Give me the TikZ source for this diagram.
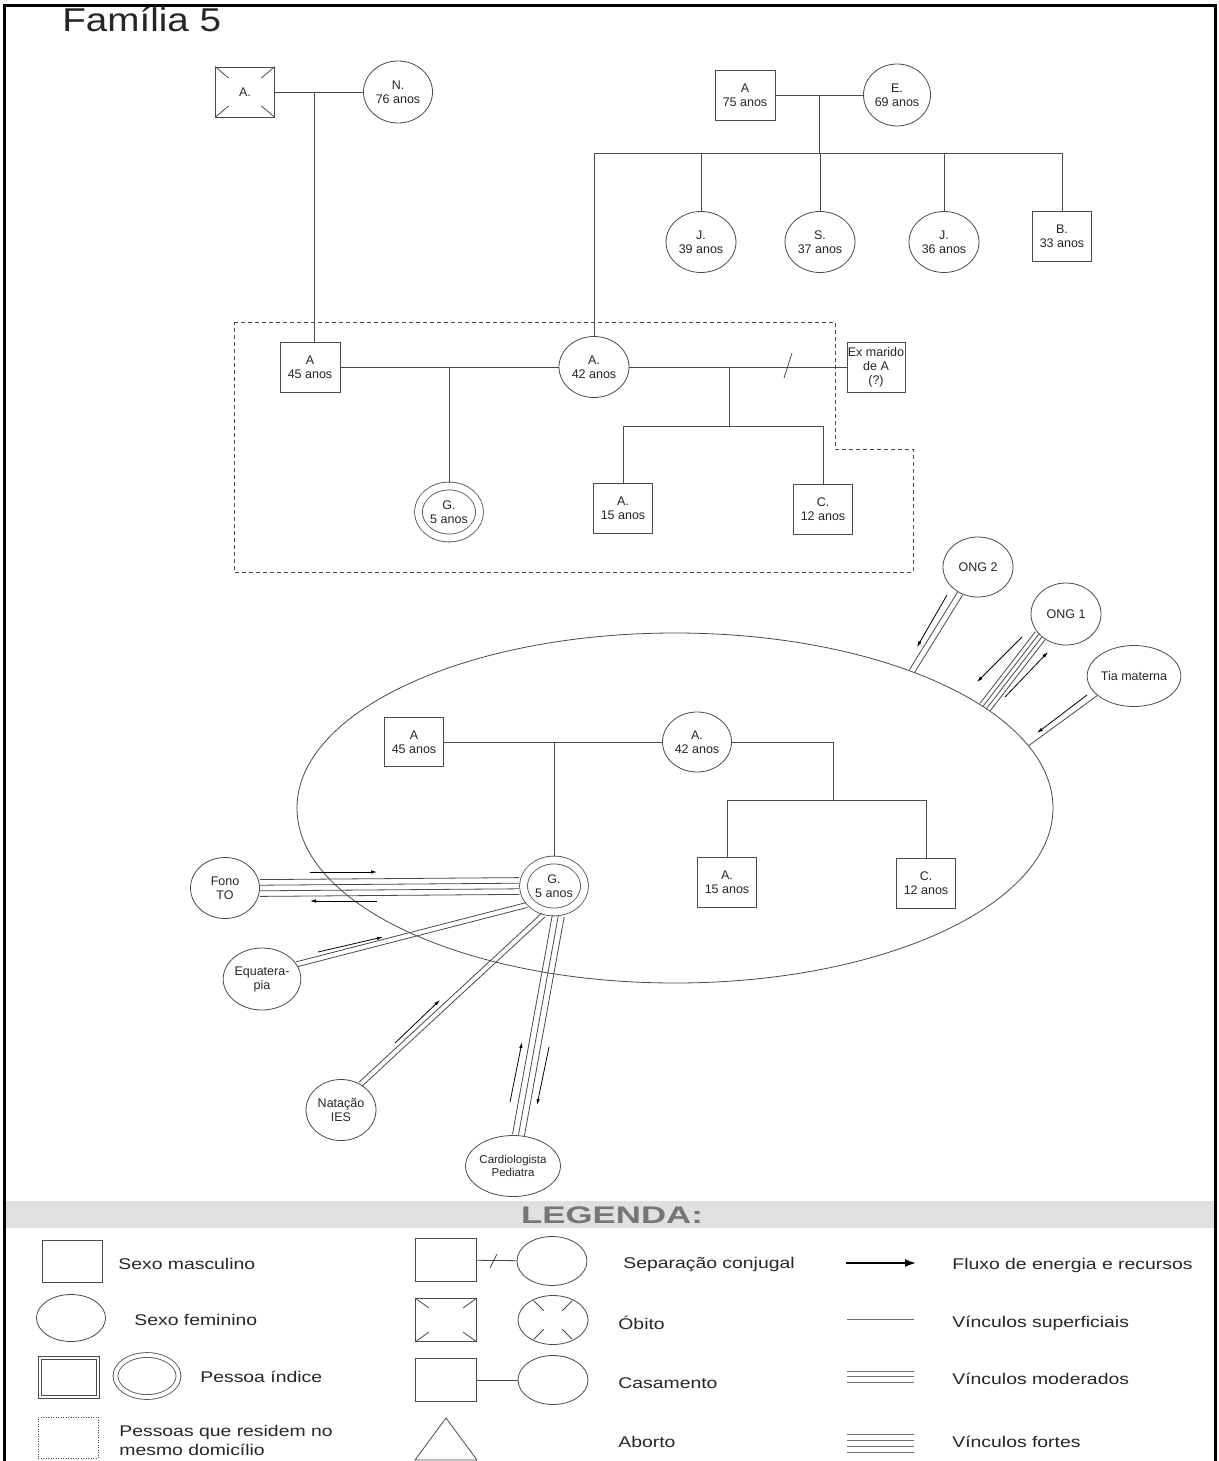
\documentclass[tikz,border=0pt]{standalone}
\usepackage{graphicx}
\usepackage{fontspec}
\setmainfont{Liberation Sans}
\usetikzlibrary{shapes.geometric, calc, arrows.meta}
\definecolor{lc}{HTML}{4A4A4A}
\definecolor{legline}{HTML}{707070}
\definecolor{bandgray}{HTML}{E0E0E0}
\definecolor{legtitle}{HTML}{767676}
\newcommand{\lx}[1]{\scalebox{1.25}[1]{#1}}
\newcommand{\relLines}[3]{%
  \foreach \o in {#1} {\draw[link] ($(#2)!\o pt!90:(#3)$) -- ($(#3)!\o pt!-90:(#2)$);}}
\tikzset{
  nfont/.style={font=\fontsize{12.5}{14}\selectfont, text=black!85},
  male/.style={draw=lc, rectangle, inner sep=0pt, align=center, nfont, minimum width=59, minimum height=50},
  fem/.style={draw=lc, ellipse, inner sep=0pt, align=center, nfont, minimum width=70, minimum height=61},
  idx/.style={draw=lc, ellipse, inner sep=0pt, align=center, nfont, minimum width=61, minimum height=52, double=white, double distance=7pt, outer sep=4.3pt},
  link/.style={draw=lc, line width=0.8pt},
  flow/.style={draw=black, line width=0.8pt, -{Latex[length=6pt, width=3.5pt]}},
  house/.style={draw=lc, dash pattern=on 4pt off 3pt, line width=0.8pt},
  ltext/.style={font=\fontsize{15.5}{19}\selectfont, anchor=west, inner sep=0pt, text=black!85},
  lsqs/.style={draw=lc, rectangle, minimum width=61, minimum height=43, inner sep=0pt},
  lels/.style={draw=lc, ellipse, minimum width=70, minimum height=49, inner sep=0pt},
  legl/.style={draw=legline, line width=1pt},
}
\begin{document}
\begin{tikzpicture}[x=1pt, y=-1pt, line width=0.8pt]
\useasboundingbox (0,0) rectangle (1218,1461);
\fill[white] (0,0) rectangle (1218,1461);
% frame
\draw[line width=3pt] (4,1461) -- (4,6) -- (1215,6) -- (1215,1461);
\node[anchor=base west, inner sep=0pt, font=\fontsize{33}{38}\selectfont, text=black!85] (title) at (62,32) {\scalebox{1.17}[1]{Família 5}};

% household (dashed)
\draw[house] (234,322) -- (835,322) -- (835,449) -- (913,449) -- (913,572) -- (234,572) -- cycle;

% paternal grandparents
\node[male, minimum width=59, minimum height=50] (pA) at (245,92) {A.};
\foreach \c in {north west,north east,south west,south east}
  \draw[link] (pA.\c) -- ($(pA.\c)!0.45!(pA.center)$);
\node[fem, minimum width=69, minimum height=62] (pN) at (398,92) {N.\\76 anos};
\draw[link] (pA) -- (pN);
\coordinate (c1) at (314,92);

% maternal grandparents
\node[male, minimum width=60] (mA) at (745,95) {A\\75 anos};
\node[fem, minimum width=67, minimum height=62] (mE) at (897,95) {E.\\69 anos};
\draw[link] (mA) -- (mE);
\coordinate (c2) at (819,95);
\coordinate (bar2) at (819,153);
\draw[link] (c2) -- (bar2);

\node[fem] (cJ1) at (701,242) {J.\\39 anos};
\node[fem] (cS) at (820,242) {S.\\37 anos};
\node[fem] (cJ2) at (944,242) {J.\\36 anos};
\node[male] (cB) at (1062,236) {B.\\33 anos};

% household members
\node[male, minimum width=60] (hA) at (310,367) {A\\45 anos};
\node[fem] (hA42) at (594,367) {A.\\42 anos};
\draw[link] (c1) -- (c1 |- hA.north);
\draw[link] (hA42.north |- bar2) -- (cB.north |- bar2);
\draw[link] (hA42.north |- bar2) -- (hA42.north);
\foreach \n in {cJ1,cS,cJ2,cB} \draw[link] (\n.north |- bar2) -- (\n.north);

\draw[link] (hA) -- (hA42);
\coordinate (c3) at (449,367);
\node[idx] (hG) at (449,512) {G.\\5 anos};
\draw[link] (c3) -- (hG.north);
\node[male, minimum width=58] (hEx) at (876,367) {Ex marido\\de A\\(?)};
\draw[link] (hA42) -- (hEx);
\draw[link] (784,378) -- (792,353);
\coordinate (c4) at (729,367);
\coordinate (bar4) at (729,426);
\draw[link] (c4) -- (bar4);
\node[male] (hA15) at (623,508) {A.\\15 anos};
\node[male] (hC12) at (823,509) {C.\\12 anos};
\draw[link] (hA15.north) -- (hA15.north |- bar4) -- (hC12.north |- bar4) -- (hC12.north);

% ecomap
\node[draw=lc, ellipse, minimum width=756, minimum height=350, inner sep=0pt] (eco) at (675,808) {};
\node[male, minimum height=49] (eA45) at (414,742) {A\\45 anos};
\node[fem, minimum width=69, minimum height=60] (eA42) at (697,742) {A.\\42 anos};
\draw[link] (eA45) -- (eA42);
\node[idx] (eG) at (554,886) {G.\\5 anos};
\coordinate (c5) at (554,742);
\draw[link] (c5) -- (eG.north);
\coordinate (c6) at (833,742);
\coordinate (bar6) at (833,800);
\draw[link] (eA42.east) -- (c6) -- (bar6);
\node[male] (eA15) at (727,882) {A.\\15 anos};
\node[male] (eC12) at (926,883) {C.\\12 anos};
\draw[link] (eA15.north) -- (eA15.north |- bar6) -- (eC12.north |- bar6) -- (eC12.north);

% external systems
\node[fem, minimum width=69] (fono) at (225,888) {Fono\\TO};
\node[fem, minimum width=71, minimum height=62] (equa) at (262,979) {Equatera-\\pia};
\node[fem] (nat) at (341,1110) {Natação\\IES};
\node[fem, minimum width=69, font=\fontsize{11.5}{13.5}\selectfont] (card) at (513,1166) {Cardiologista\\Pediatra};
\node[fem, minimum height=60] (ong2) at (978,567) {ONG 2};
\node[fem, minimum height=62] (ong1) at (1066,614) {ONG 1};
\node[fem] (tia) at (1134,676) {Tia materna};

\relLines{-8.4,-2.8,2.8,8.4}{fono.east}{eG.west}
\relLines{-2.5,2.5}{equa.23}{eG.215}
\relLines{-2.5,2.5}{nat.53}{eG.250}
\relLines{-6,0,6}{card.80}{eG.278}
\relLines{-2.9,2.9}{ong2.236}{eco.30}
\relLines{-6.3,-2.1,2.1,6.3}{ong1.220}{eco.18}
\draw[link] (tia.208) -- (eco.10);

% flow arrows
\coordinate (a1s) at (310,872); \coordinate (a1e) at (377,872);
\coordinate (a2s) at (377,901); \coordinate (a2e) at (310,901);
\coordinate (a3s) at (318,952); \coordinate (a3e) at (383,937);
\coordinate (a4s) at (395,1043); \coordinate (a4e) at (440,1000);
\coordinate (a5s) at (510,1102); \coordinate (a5e) at (522,1042);
\coordinate (a6s) at (549,1047); \coordinate (a6e) at (537,1105);
\coordinate (a7s) at (947,595); \coordinate (a7e) at (917,647);
\coordinate (a8s) at (1022,637); \coordinate (a8e) at (977,682);
\coordinate (a9s) at (1005,697); \coordinate (a9e) at (1048,652);
\coordinate (a10s) at (1087,695); \coordinate (a10e) at (1037,733);
\foreach \i in {1,...,10} \draw[flow] (a\i s) -- (a\i e);

% legend
\fill[bandgray] (5.5,1201) rectangle (1213.5,1228);
\node[inner sep=0pt, font=\bfseries\fontsize{24}{28}\selectfont, text=legtitle] (legt) at (612,1215) {\scalebox{1.45}[1]{LEGENDA:}};

\node[draw=lc, minimum width=60, minimum height=42, inner sep=0pt] (lsq) at (72,1261) {};
\node[ltext] (lt1) at (118,1264) {\lx{Sexo masculino}};
\node[draw=lc, ellipse, minimum width=69, minimum height=47, inner sep=0pt] (lel) at (71,1318) {};
\node[ltext] (lt2) at (134,1320) {\lx{Sexo feminino}};
\node[draw=lc, rectangle, minimum width=61, minimum height=42, inner sep=0pt] (lis) at (68.5,1377) {};
\draw[draw=lc] ($(lis.north west)+(3.5,3.5)$) rectangle ($(lis.south east)+(-3.5,-3.5)$);
\node[draw=lc, ellipse, double, double distance=4pt, minimum width=63, minimum height=42, inner sep=0pt] (lie) at (147,1376) {};
\node[ltext] (lt3) at (200,1377) {\lx{Pessoa índice}};
\node[draw=lc, dash pattern=on 1pt off 1.5pt, minimum width=60, minimum height=41, inner sep=0pt] (ldot) at (68,1437.5) {};
\node[ltext, align=left] (lt4) at (119,1440) {\lx{Pessoas que residem no}\\\lx{mesmo domicílio}};

\node[lsqs] (ls1) at (446,1260) {};
\node[lels] (le1) at (552,1261) {};
\draw[link] (ls1) -- (le1);
\draw[link] (490,1268) -- (497,1254);
\node[lsqs] (ls2) at (446,1320) {};
\foreach \c in {north west,north east,south west,south east}
  \draw[link] (ls2.\c) -- ($(ls2.\c)!0.45!(ls2.center)$);
\node[lels] (le2) at (553,1320) {};
\foreach \a in {45,135,225,315}
  \draw[link] ($(le2.center)!0.95!(le2.\a)$) -- ($(le2.center)!0.45!(le2.\a)$);
\node[lsqs] (ls3) at (446,1380) {};
\node[lels] (le3) at (553,1380) {};
\draw[link] (ls3) -- (le3);
\draw[draw=lc] (415,1460) -- (446,1418) -- (477,1460) -- cycle;
\node[ltext] (lt5) at (623,1265) {\lx{Separação conjugal}};
\node[ltext] (lt6) at (618,1323) {\lx{Óbito}};
\node[ltext] (lt7) at (618,1383) {\lx{Casamento}};
\node[ltext] (lt8) at (618,1442) {\lx{Aborto}};

\coordinate (la1) at (846,1263); \coordinate (la2) at (916,1263);
\draw[line width=1.8pt, -{Latex[length=11pt,width=8pt]}] (la1) -- (la2);
\coordinate (lb1) at (847,1319); \coordinate (lb2) at (914,1319);
\draw[legl] (lb1) -- (lb2);
\foreach \y in {1371,1376.5,1382} {\coordinate (lm) at (847,\y); \draw[legl] (lm) -- ++(67,0);}
\foreach \y in {1434,1440,1446,1452} {\coordinate (lf) at (847,\y); \draw[legl] (lf) -- ++(67,0);}
\node[ltext] (lt9) at (952,1265) {\lx{Fluxo de energia e recursos}};
\node[ltext] (lt10) at (952,1323) {\lx{Vínculos superficiais}};
\node[ltext] (lt11) at (952,1379) {\lx{Vínculos moderados}};
\node[ltext] (lt12) at (952,1442) {\lx{Vínculos fortes}};
\end{tikzpicture}
\end{document}
